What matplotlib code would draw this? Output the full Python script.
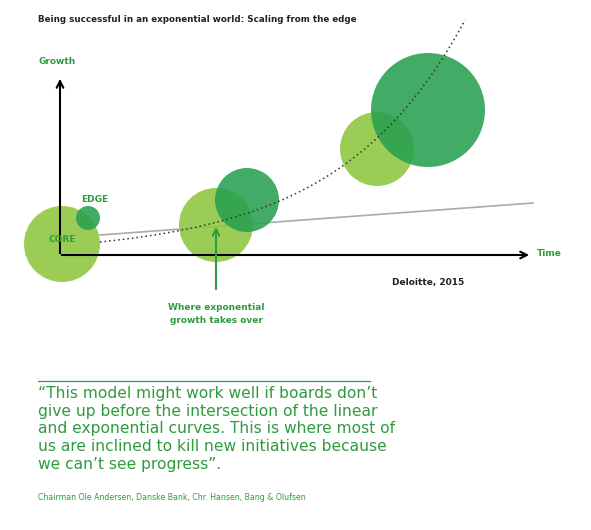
import numpy as np
import matplotlib
matplotlib.use("Agg")
import matplotlib.pyplot as plt

LIGHT = "#8DC63F"
DARK = "#28A050"
TXT = "#2E9B3E"

# bubbles: (x, y, radius, colour)
bubble_x = [62, 88, 216, 247, 377, 428]
bubble_y = [244, 218, 225, 200, 149, 110]
bubble_r = [38, 12, 37, 32, 37, 57]
bubble_c = [LIGHT, DARK, LIGHT, DARK, LIGHT, DARK]

fig = plt.figure(figsize=(5.91, 5.30), dpi=100)
ax = fig.add_axes([0, 0, 1, 1])
ax.set_xlim(0, 591)
ax.set_ylim(530, 0)
ax.set_aspect("equal")
ax.axis("off")

ax.text(38, 20, "Being successful in an exponential world: Scaling from the edge",
        fontsize=6.3, fontweight="bold", color="#222222", va="center")

# axes arrows
ax.annotate("", xy=(60, 76), xytext=(60, 256),
            arrowprops=dict(arrowstyle="->", lw=1.5, color="black", mutation_scale=12))
ax.annotate("", xy=(532, 255), xytext=(59, 255),
            arrowprops=dict(arrowstyle="->", lw=1.5, color="black", mutation_scale=12))
ax.text(57, 62, "Growth", fontsize=6.5, fontweight="bold", color=TXT, ha="center", va="center")
ax.text(537, 254, "Time", fontsize=6.5, fontweight="bold", color=TXT, va="center")

# linear line
ax.plot([100, 533], [235, 203], color="#AAAAAA", lw=1.2, zorder=1)

for x, y, r, c in zip(bubble_x, bubble_y, bubble_r, bubble_c):
    ax.add_patch(plt.Circle((x, y), r, color=c, alpha=0.88, lw=0, zorder=2))

# exponential curve
xs = np.linspace(100, 465, 200)
ys = 255 - 13 * np.exp(0.00793 * (xs - 100))
ax.plot(xs, ys, color="#333333", lw=1.1, ls=(0, (1, 2)), zorder=3)

ax.text(62, 240, "CORE", fontsize=6.5, fontweight="bold", color=TXT, ha="center", va="center", zorder=4)
ax.text(95, 199, "EDGE", fontsize=6.5, fontweight="bold", color=TXT, ha="center", va="center", zorder=4)

ax.annotate("", xy=(216, 224), xytext=(216, 292),
            arrowprops=dict(arrowstyle="->", lw=1.5, color=TXT, mutation_scale=12), zorder=4)
ax.text(216, 314, "Where exponential\ngrowth takes over", fontsize=6.5, fontweight="bold",
        color=TXT, ha="center", va="center", linespacing=1.5)

ax.text(392, 282, "Deloitte, 2015", fontsize=6.5, fontweight="bold", color="#222222", va="center")

ax.plot([38, 370], [381, 381], color=TXT, lw=0.9)
quote = ("\u201cThis model might work well if boards don\u2019t\n"
         "give up before the intersection of the linear\n"
         "and exponential curves. This is where most of\n"
         "us are inclined to kill new initiatives because\n"
         "we can\u2019t see progress\u201d.")
ax.text(38, 386, quote, fontsize=11.2, color=TXT, va="top", linespacing=1.22)
ax.text(38, 497, "Chairman Ole Andersen, Danske Bank, Chr. Hansen, Bang & Olufsen",
        fontsize=5.6, color=TXT, va="center")

fig.savefig("out.png", dpi=100)
